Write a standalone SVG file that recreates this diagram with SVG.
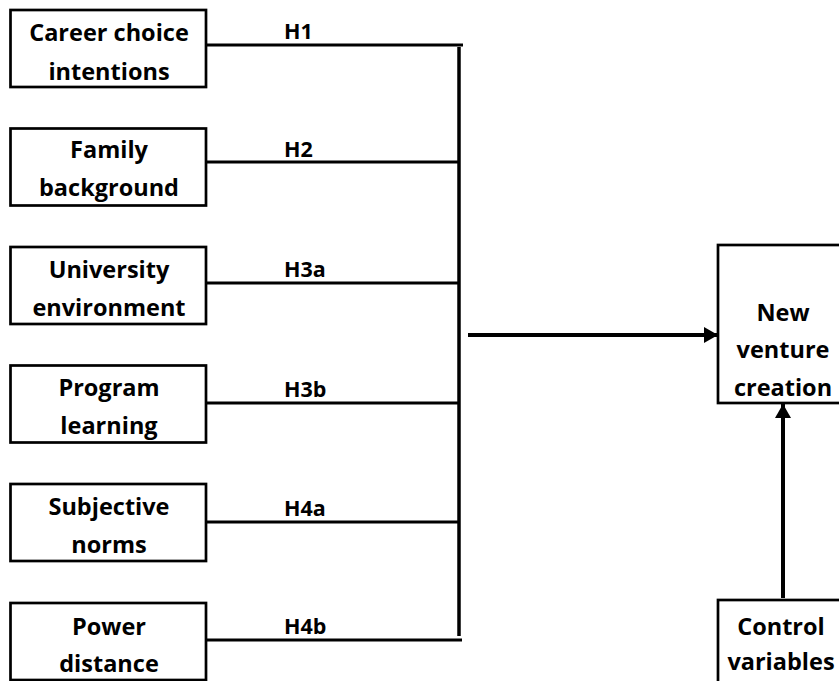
<svg xmlns="http://www.w3.org/2000/svg" width="839" height="681" viewBox="0 0 839 681">
<style>
.box{fill:#fff;stroke:#000;stroke-width:2.7}
.t{font-family:"Open Sans","Liberation Sans",sans-serif;font-weight:bold;font-size:23.5px;fill:#000;text-anchor:middle}
.h{font-family:"Open Sans","Liberation Sans",sans-serif;font-weight:bold;font-size:21.5px;fill:#000}
.ln{stroke:#000;stroke-width:3;fill:none}
.ar{stroke:#000;stroke-width:4;fill:none}
</style>
<defs>
<marker id="ah" markerUnits="userSpaceOnUse" markerWidth="14" markerHeight="16" refX="14" refY="8" orient="auto">
<path d="M0,0 L14,8 L0,16 Z" fill="#000"/>
</marker>
</defs>
<rect width="839" height="681" fill="#fff"/>
<g id="connectors">
<line class="ln" x1="206" y1="45" x2="463" y2="45"/>
<line class="ln" x1="206" y1="162" x2="459" y2="162"/>
<line class="ln" x1="206" y1="283" x2="459" y2="283"/>
<line class="ln" x1="206" y1="403" x2="459" y2="403"/>
<line class="ln" x1="206" y1="522" x2="459" y2="522"/>
<line class="ln" x1="206" y1="640" x2="462" y2="640"/>
<line stroke="#000" stroke-width="3.5" x1="459" y1="47" x2="459" y2="636"/>
<line class="ar" x1="468" y1="335" x2="718" y2="335" marker-end="url(#ah)"/>
<line class="ar" x1="783" y1="598" x2="783" y2="404" marker-end="url(#ah)"/>
<text class="h" x="284" y="39">H1</text>
<text class="h" x="284" y="157">H2</text>
<text class="h" x="284" y="277">H3a</text>
<text class="h" x="284" y="397">H3b</text>
<text class="h" x="284" y="516">H4a</text>
<text class="h" x="284" y="634">H4b</text>
</g>
<g id="n1"><rect class="box" x="10.5" y="10" width="195.5" height="77"/><text class="t" x="109" y="41">Career choice</text><text class="t" x="109" y="80">intentions</text></g>
<g id="n2"><rect class="box" x="10.5" y="128.5" width="195.5" height="77"/><text class="t" x="109" y="158">Family</text><text class="t" x="109" y="196">background</text></g>
<g id="n3"><rect class="box" x="10.5" y="247" width="195.5" height="77"/><text class="t" x="109" y="278">University</text><text class="t" x="109" y="316">environment</text></g>
<g id="n4"><rect class="box" x="10.5" y="365.5" width="195.5" height="77"/><text class="t" x="109" y="396">Program</text><text class="t" x="109" y="434">learning</text></g>
<g id="n5"><rect class="box" x="10.5" y="484" width="195.5" height="77"/><text class="t" x="109" y="515">Subjective</text><text class="t" x="109" y="553">norms</text></g>
<g id="n6"><rect class="box" x="10.5" y="603" width="195.5" height="77"/><text class="t" x="109" y="635">Power</text><text class="t" x="109" y="672">distance</text></g>
<g id="n7"><rect class="box" x="718" y="245" width="130" height="158"/><text class="t" x="783" y="321">New</text><text class="t" x="783" y="358">venture</text><text class="t" x="783" y="396">creation</text></g>
<g id="n8"><rect class="box" x="718" y="600" width="130" height="90"/><text class="t" x="781" y="635">Control</text><text class="t" x="781" y="670">variables</text></g>
</svg>
